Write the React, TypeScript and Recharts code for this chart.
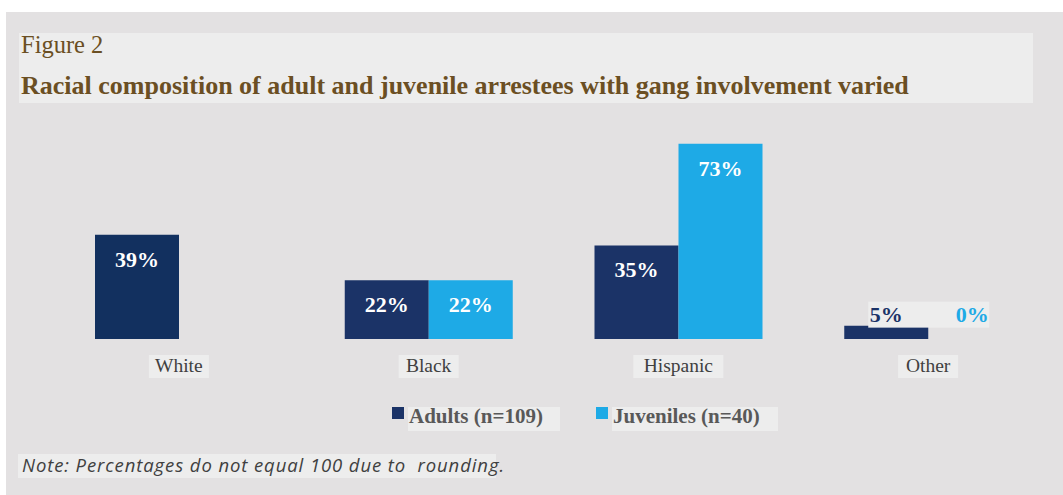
import React from "react";
import { BarChart, Bar, XAxis, YAxis, LabelList, Cell } from "recharts";

const categories = ["White", "Black", "Hispanic", "Other"];
const adults = [39, 22, 35, 5];
const juveniles = [null, 22, 73, 0];
const seriesNames = ["Adults (n=109)", "Juveniles (n=40)"];

const NAVY = "#1b3367";
const NAVY_DARK = "#12305f";
const BLUE = "#1eaae6";
const SERIF = "'Liberation Serif', 'Times New Roman', serif";

const data = categories.map((c, i) => ({ name: c, adults: adults[i], juveniles: juveniles[i] }));

const CatTick = (props: any) => {
  const { x, y, payload } = props;
  const w = payload.value.length * 10 + 10;
  return (
    <g>
      <rect x={x - w / 2} y={y + 8} width={w} height={23} fill="#ededed" />
      <text x={x} y={y + 25} textAnchor="middle" fontFamily={SERIF} fontSize={19.5} fill="#404040">
        {payload.value}
      </text>
    </g>
  );
};

const makeLabel = (color: string, outsideColor: string, isAdult: boolean) => (props: any) => {
  const { x, y, width, height, value, index } = props;
  if (value === null || value === undefined) return null;
  const cx = x + width / 2;
  const txt = `${value}%`;
  if (height < 40) {
    const other = juveniles[index];
    return (
      <g>
        <rect x={x + 24} y={y - 24} width={isAdult ? 121 : width} height={26} fill="#ededed" />
        <text x={cx} y={y - 4} textAnchor="middle" fontFamily={SERIF} fontWeight="bold" fontSize={22} fill={outsideColor}>
          {txt}
        </text>
        {isAdult && other !== null && other !== undefined ? (
          <text x={cx + width + 2} y={y - 4} textAnchor="middle" fontFamily={SERIF} fontWeight="bold" fontSize={22} fill={BLUE}>
            {`${other}%`}
          </text>
        ) : null}
      </g>
    );
  }
  return (
    <text x={cx} y={y + 32} textAnchor="middle" fontFamily={SERIF} fontWeight="bold" fontSize={22} fill={color}>
      {txt}
    </text>
  );
};

export default function App() {
  return (
    <div style={{ position: "fixed", left: 0, top: 0, width: 1063, height: 495, background: "#ffffff", overflow: "hidden" }}>
      <div style={{ position: "absolute", left: 6, top: 12, width: 1057, height: 483, background: "#e3e1e2" }} />
      <div style={{ position: "absolute", left: 19, top: 33, width: 1014, height: 70, background: "#ededed" }} />
      <div style={{ position: "absolute", left: 21, top: 31, fontFamily: SERIF, fontSize: 24.5, color: "#6b4f23", whiteSpace: "nowrap" }}>
        Figure 2
      </div>
      <div style={{ position: "absolute", left: 21, top: 71, fontFamily: SERIF, fontWeight: "bold", fontSize: 26, color: "#6b4f23", whiteSpace: "nowrap" }}>
        Racial composition of adult and juvenile arrestees with gang involvement varied
      </div>
      <div style={{ position: "absolute", left: 18, top: 454, width: 478, height: 24, background: "#ededed" }} />
      <div style={{ position: "absolute", left: 22, top: 452, fontFamily: "'Open Sans', 'Liberation Sans', sans-serif", fontStyle: "italic", fontSize: 18.5, letterSpacing: 0.9, color: "#404040", whiteSpace: "pre" }}>
        Note: Percentages do not equal 100 due to  rounding.
      </div>
      <div style={{ position: "absolute", left: 0, top: 0 }}>
        <BarChart
          width={1063}
          height={495}
          data={data}
          margin={{ top: 125, right: 10, bottom: 126, left: 54 }}
          barGap={0}
          barCategoryGap={41}
        >
          <XAxis dataKey="name" axisLine={false} tickLine={false} tick={<CatTick />} height={30} interval={0} />
          <YAxis hide domain={[0, 80]} />
          <Bar dataKey="adults" name={seriesNames[0]} fill={NAVY} barSize={84} isAnimationActive={false}>
            {data.map((d, i) => (
              <Cell key={i} fill={i === 0 ? NAVY_DARK : NAVY} />
            ))}
            <LabelList dataKey="adults" content={makeLabel("#ffffff", NAVY, true)} />
          </Bar>
          <Bar dataKey="juveniles" name={seriesNames[1]} fill={BLUE} barSize={84} isAnimationActive={false}>
            <LabelList dataKey="juveniles" content={makeLabel("#ffffff", BLUE, false)} />
          </Bar>
        </BarChart>
      </div>
      {/* Legend */}
      <div style={{ position: "absolute", left: 392, top: 407, width: 12, height: 12, background: NAVY }} />
      <div style={{ position: "absolute", left: 408, top: 407, width: 152, height: 24, background: "#ededed" }} />
      <div style={{ position: "absolute", left: 409, top: 404, fontFamily: SERIF, fontWeight: "bold", fontSize: 21, color: "#595959", whiteSpace: "nowrap" }}>
        {seriesNames[0]}
      </div>
      <div style={{ position: "absolute", left: 596, top: 407, width: 12, height: 12, background: BLUE }} />
      <div style={{ position: "absolute", left: 612, top: 407, width: 166, height: 24, background: "#ededed" }} />
      <div style={{ position: "absolute", left: 613, top: 404, fontFamily: SERIF, fontWeight: "bold", fontSize: 21, color: "#595959", whiteSpace: "nowrap" }}>
        {seriesNames[1]}
      </div>
    </div>
  );
}
